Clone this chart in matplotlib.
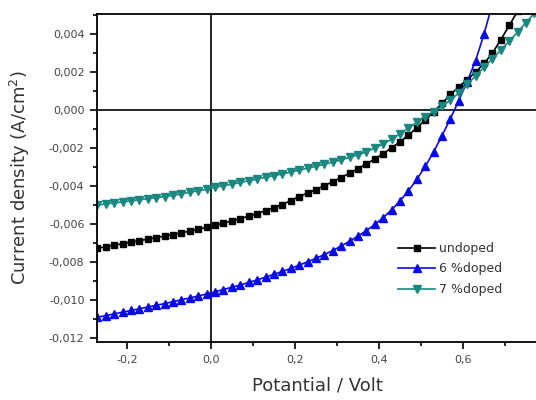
import numpy as np
import matplotlib
matplotlib.use('Agg')
import matplotlib.pyplot as plt
from matplotlib.ticker import MultipleLocator, FuncFormatter

plt.rcParams['font.family'] = ['DejaVu Sans']

# potential grid (V) shared by the three curves
potential = [-0.27, -0.25, -0.23, -0.21, -0.19, -0.17, -0.15, -0.13, -0.11, -0.09,
             -0.07, -0.05, -0.03, -0.01, 0.01, 0.03, 0.05, 0.07, 0.09, 0.11,
             0.13, 0.15, 0.17, 0.19, 0.21, 0.23, 0.25, 0.27, 0.29, 0.31,
             0.33, 0.35, 0.37, 0.39, 0.41, 0.43, 0.45, 0.47, 0.49, 0.51,
             0.53, 0.55, 0.57, 0.59, 0.61, 0.63, 0.65, 0.67, 0.69, 0.71,
             0.73, 0.75, 0.77]

# current density (A/cm2)
undoped = [-0.00727, -0.00719, -0.00711, -0.00703, -0.00695, -0.00687, -0.00679, -0.00671, -0.00663, -0.00655,
           -0.00646, -0.00637, -0.00627, -0.00617, -0.00606, -0.00595, -0.00583, -0.00571, -0.00558, -0.00545,
           -0.00529, -0.00513, -0.00497, -0.00476, -0.00455, -0.00437, -0.00418, -0.00398, -0.00377, -0.00355,
           -0.00332, -0.00308, -0.00283, -0.00257, -0.00229, -0.00199, -0.00167, -0.00132, -0.00094, -0.00053,
           -0.00010, 0.00035, 0.00082, 0.00122, 0.00160, 0.00200, 0.00245, 0.00300, 0.00370, 0.00445,
           0.00520]

doped6 = [-0.01090, -0.01081, -0.01072, -0.01063, -0.01054, -0.01045, -0.01036, -0.01027, -0.01018, -0.01008,
          -0.00998, -0.00988, -0.00978, -0.00967, -0.00956, -0.00944, -0.00932, -0.00920, -0.00907, -0.00893,
          -0.00879, -0.00864, -0.00849, -0.00833, -0.00816, -0.00798, -0.00780, -0.00760, -0.00739, -0.00715,
          -0.00690, -0.00663, -0.00634, -0.00602, -0.00566, -0.00525, -0.00478, -0.00425, -0.00365, -0.00297,
          -0.00220, -0.00135, -0.00045, 0.00050, 0.00150, 0.00260, 0.00400, 0.00560]

doped7 = [-0.00500, -0.00494, -0.00489, -0.00483, -0.00478, -0.00472, -0.00466, -0.00461, -0.00455, -0.00449,
          -0.00441, -0.00433, -0.00425, -0.00417, -0.00406, -0.00398, -0.00390, -0.00381, -0.00372, -0.00363,
          -0.00354, -0.00345, -0.00336, -0.00326, -0.00316, -0.00306, -0.00296, -0.00285, -0.00274, -0.00262,
          -0.00249, -0.00235, -0.00220, -0.00200, -0.00178, -0.00154, -0.00125, -0.00095, -0.00065, -0.00035,
          -0.00008, 0.00020, 0.00052, 0.00090, 0.00135, 0.00180, 0.00225, 0.00270, 0.00315, 0.00362,
          0.00410, 0.00460, 0.00510]

labels = ['undoped', '6 %doped', '7 %doped']

fig = plt.figure(figsize=(5.36, 4.0), dpi=100)
ax = fig.add_axes([97 / 536, 58 / 400, 440 / 536, 328 / 400])

ax.plot(potential[:len(undoped)], undoped, color='black', marker='s', ms=5, lw=1.2, label=labels[0])
ax.plot(potential[:len(doped6)], doped6, color='#0a0ae6', marker='^', ms=6, lw=1.2, label=labels[1])
ax.plot(potential[:len(doped7)], doped7, color='#1a8780', marker='v', ms=6, lw=1.2, label=labels[2])

ax.axhline(0, color='black', lw=1.2, zorder=0)
ax.axvline(0, color='black', lw=1.2, zorder=0)

ax.set_xlim(-0.271, 0.776)
ax.set_ylim(-0.0122, 0.00505)
ax.spines['right'].set_visible(False)
for s in ['left', 'bottom', 'top']:
    ax.spines[s].set_linewidth(1.3)

ax.xaxis.set_major_locator(MultipleLocator(0.2))
ax.xaxis.set_minor_locator(MultipleLocator(0.1))
ax.yaxis.set_major_locator(MultipleLocator(0.002))
ax.yaxis.set_minor_locator(MultipleLocator(0.001))
ax.xaxis.set_major_formatter(FuncFormatter(lambda v, p: ('%.1f' % v).replace('.', ',').replace('-0,0', '0,0')))
ax.yaxis.set_major_formatter(FuncFormatter(lambda v, p: ('%.3f' % v).replace('.', ',').replace('-0,000', '0,000')))
ax.tick_params(which='both', direction='out', top=False, right=False, labelsize=8, labelcolor='#444444', width=1.2)
ax.tick_params(which='major', length=5, pad=4)
ax.tick_params(which='minor', length=3)

ax.set_xlabel('Potantial / Volt', fontsize=13, color='#333333')
ax.set_ylabel('Current density (A/cm$^2$)', fontsize=13, color='#333333')
ax.xaxis.set_label_coords(0.5, -0.105)
ax.yaxis.set_label_coords(-0.148, 0.5)

ax.legend(loc='upper left', bbox_to_anchor=(0.684, 0.305), frameon=False, fontsize=9,
          borderaxespad=0, borderpad=0, handlelength=3.0, handletextpad=0.25, labelspacing=0.6,
          labelcolor='#333333')

fig.savefig('out.png', dpi=100)
